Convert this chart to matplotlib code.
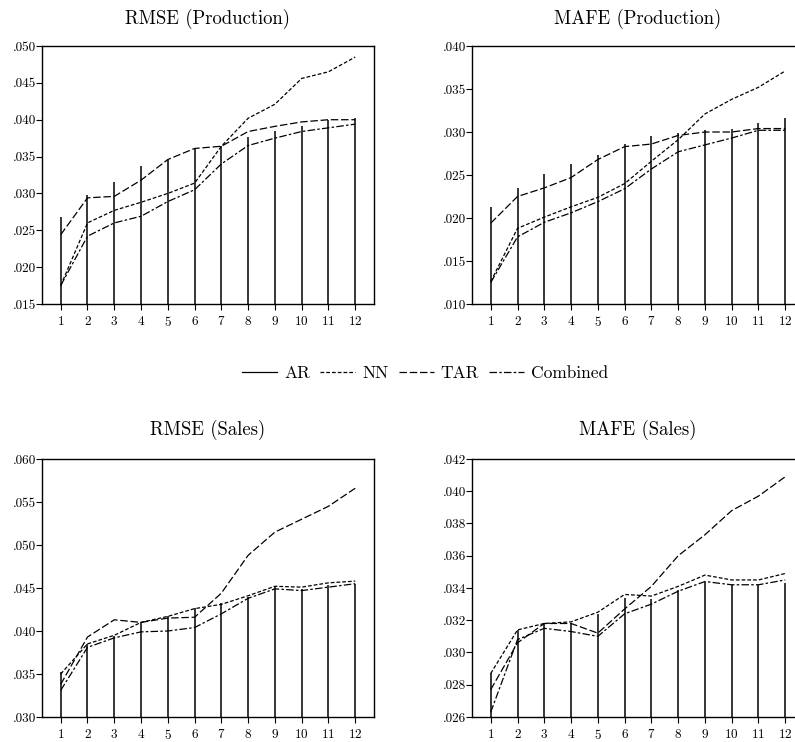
import matplotlib
matplotlib.use("Agg")
import matplotlib.pyplot as plt
from matplotlib.lines import Line2D
from matplotlib.ticker import FuncFormatter, MultipleLocator

plt.rcParams['font.family'] = ['cmr10', 'DejaVu Serif']
plt.rcParams['mathtext.fontset'] = 'cm'
plt.rcParams['axes.formatter.use_mathtext'] = True

# Forecast horizons
horizon = list(range(1, 13))

# RMSE (Production)
rmse_prod_ar = [.0268, .0298, .0315, .0337, .0346, .0361, .0365, .0377, .0385, .0392, .0399, .0403]
rmse_prod_nn = [.0175, .0260, .0277, .0288, .0300, .0314, .0364, .0402, .0421, .0456, .0465, .0485]
rmse_prod_tar = [.0244, .0294, .0296, .0318, .0346, .0361, .0364, .0384, .0391, .0397, .0400, .0400]
rmse_prod_comb = [.0175, .0242, .0260, .0269, .0289, .0305, .0340, .0365, .0375, .0384, .0389, .0394]

# MAFE (Production)
mafe_prod_ar = [.0213, .0235, .0251, .0263, .0273, .0286, .0295, .0299, .0302, .0304, .0311, .0316]
mafe_prod_nn = [.0126, .0188, .0201, .0213, .0224, .0240, .0266, .0291, .0321, .0338, .0352, .0371]
mafe_prod_tar = [.0194, .0225, .0235, .0247, .0268, .0283, .0286, .0296, .0300, .0300, .0304, .0304]
mafe_prod_comb = [.0125, .0178, .0195, .0206, .0219, .0234, .0257, .0277, .0285, .0293, .0302, .0302]

# RMSE (Sales)
rmse_sales_ar = [.0352, .0385, .0394, .0410, .0418, .0427, .0433, .0440, .0451, .0449, .0454, .0455]
rmse_sales_nn = [.0350, .0385, .0395, .0410, .0417, .0426, .0431, .0441, .0452, .0451, .0456, .0458]
rmse_sales_tar = [.0338, .0393, .0413, .0410, .0415, .0416, .0444, .0488, .0515, .0530, .0545, .0566]
rmse_sales_comb = [.0331, .0381, .0392, .0399, .0400, .0404, .0420, .0438, .0449, .0447, .0451, .0455]

# MAFE (Sales)
mafe_sales_ar = [.0287, .0314, .0318, .0318, .0324, .0334, .0333, .0339, .0344, .0342, .0342, .0343]
mafe_sales_nn = [.0287, .0314, .0318, .0319, .0325, .0336, .0335, .0341, .0348, .0345, .0345, .0349]
mafe_sales_tar = [.0277, .0306, .0318, .0318, .0312, .0327, .0341, .0360, .0373, .0388, .0397, .0409]
mafe_sales_comb = [.0263, .0308, .0315, .0313, .0310, .0324, .0330, .0338, .0344, .0342, .0342, .0345]

titles = ["RMSE (Production)", "MAFE (Production)", "RMSE (Sales)", "MAFE (Sales)"]
y_ranges = [(.015, .050, .005), (.010, .040, .005), (.030, .060, .005), (.026, .042, .002)]

panels = [
    (rmse_prod_ar, rmse_prod_nn, rmse_prod_tar, rmse_prod_comb),
    (mafe_prod_ar, mafe_prod_nn, mafe_prod_tar, mafe_prod_comb),
    (rmse_sales_ar, rmse_sales_nn, rmse_sales_tar, rmse_sales_comb),
    (mafe_sales_ar, mafe_sales_nn, mafe_sales_tar, mafe_sales_comb),
]

nn_dash = (3, 1.6)
tar_dash = (6, 2.2)
comb_dash = (6, 1.8, 2, 1.8)

fig = plt.figure(figsize=(7.95, 7.42), dpi=100)

# axes boxes in figure fractions (right column runs past the edge)
boxes = [
    [0.0528, 0.5903, 0.4176, 0.3477],
    [0.5937, 0.5903, 0.4176, 0.3477],
    [0.0528, 0.0337, 0.4176, 0.3477],
    [0.5937, 0.0337, 0.4176, 0.3477],
]

fmt = FuncFormatter(lambda v, p: ("%.3f" % v)[1:])

for i in range(4):
    ax = fig.add_axes(boxes[i])
    ar, nn, tar, comb = panels[i]
    lo, hi, step = y_ranges[i]

    ax.vlines(horizon, lo, ar, color="black", linewidth=1.1)
    ax.plot(horizon, nn, color="black", linewidth=0.9, dashes=nn_dash)
    ax.plot(horizon, tar, color="black", linewidth=0.9, dashes=tar_dash)
    ax.plot(horizon, comb, color="black", linewidth=0.9, dashes=comb_dash)

    ax.set_xlim(0.3, 12.7)
    ax.set_ylim(lo, hi)
    ax.set_xticks(horizon)
    ax.yaxis.set_major_locator(MultipleLocator(step))
    ax.yaxis.set_major_formatter(fmt)
    ax.tick_params(axis="y", direction="out", length=4, width=0.8, pad=0.3, labelsize=9.5)
    ax.tick_params(axis="x", direction="out", length=4, width=0.8, pad=4, labelsize=9.5)
    for s in ax.spines.values():
        s.set_linewidth(1.0)
    ax.set_title(titles[i], fontsize=13.5, pad=16 if i < 2 else 17)

handles = [
    Line2D([], [], color="black", linewidth=0.9),
    Line2D([], [], color="black", linewidth=0.9, dashes=nn_dash),
    Line2D([], [], color="black", linewidth=0.9, dashes=tar_dash),
    Line2D([], [], color="black", linewidth=0.9, dashes=comb_dash),
]
fig.legend(handles, ["AR", "NN", "TAR", "Combined"], loc="center",
           bbox_to_anchor=(0.535, 0.497), ncol=4, frameon=False,
           fontsize=12.5, handlelength=2.0, handletextpad=0.4, columnspacing=0.6)

fig.savefig("out.png", dpi=100)
